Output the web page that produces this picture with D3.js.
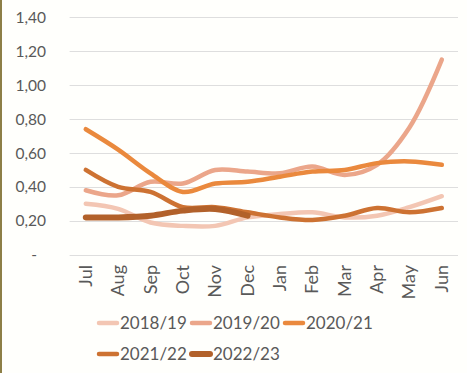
<!DOCTYPE html>
<html lang="en">
<head>
<meta charset="UTF-8">
<title>Monthly values by year</title>
<script src="https://cdnjs.cloudflare.com/ajax/libs/d3/7.8.5/d3.min.js"></script>
<style>
  body { margin: 0; background: #fffffc; }
  text { font-family: Lato, "Open Sans", sans-serif; fill: #595959; }
</style>
</head>
<body>
<div id="chart"></div>
<script>
var months = ["Jul","Aug","Sep","Oct","Nov","Dec","Jan","Feb","Mar","Apr","May","Jun"];
var yTicks = [0, 0.2, 0.4, 0.6, 0.8, 1.0, 1.2, 1.4];
var seriesNames = ["2018/19","2019/20","2020/21","2021/22","2022/23"];

var s1819 = [0.30,0.27,0.19,0.17,0.17,0.22,0.24,0.25,0.22,0.23,0.28,0.345];
var s1920 = [0.38,0.35,0.43,0.42,0.50,0.49,0.48,0.52,0.47,0.53,0.75,1.15];
var s2021 = [0.74,0.62,0.48,0.37,0.42,0.43,0.46,0.49,0.50,0.54,0.55,0.53];
var s2122 = [0.50,0.40,0.37,0.28,0.28,0.25,0.22,0.205,0.23,0.275,0.25,0.275];
var s2223 = [0.22,0.22,0.23,0.26,0.27,0.23];

var allSeries = [s1819, s1920, s2021, s2122, s2223];
var colors = ["#f3c6b3", "#eba68a", "#ea893d", "#cd7232", "#b2612a"];
var widths = [4.5, 4.5, 4.5, 4.5, 6];

var width = 467, height = 373;
var svg = d3.select("#chart").append("svg")
    .attr("width", width)
    .attr("height", height);

svg.append("rect").attr("width", width).attr("height", height).attr("fill", "#fffffc");
// left edge strip
svg.append("rect").attr("x", 0).attr("y", 0).attr("width", 2).attr("height", height).attr("fill", "#8d7f47");

var x = d3.scaleBand().domain(months).range([69.6, 458]);
var y = d3.scaleLinear().domain([0, 1.4]).range([254.7, 17.3]);

// gridlines
svg.append("g").selectAll("line")
    .data(yTicks)
    .enter().append("line")
    .attr("x1", 69.6).attr("x2", 458)
    .attr("y1", function(d) { return Math.round(y(d)) + 0.5; })
    .attr("y2", function(d) { return Math.round(y(d)) + 0.5; })
    .attr("stroke", "#dedede")
    .attr("stroke-width", 1);

// y labels
svg.append("g").selectAll("text")
    .data(yTicks)
    .enter().append("text")
    .attr("x", function(d) { return d === 0 ? 37 : 46; })
    .attr("y", function(d) { return y(d); })
    .attr("dy", "0.36em")
    .attr("text-anchor", "end")
    .style("font-size", "15.5px")
    .text(function(d) { return d === 0 ? "-" : d.toFixed(2).replace(".", ","); });

// x labels
svg.append("g").selectAll("text")
    .data(months)
    .enter().append("text")
    .attr("transform", function(d) {
        var cx = x(d) + x.bandwidth() / 2 + 6;
        return "translate(" + cx + ",265) rotate(-90)";
    })
    .attr("text-anchor", "end")
    .style("font-size", "18px")
    .text(function(d) { return d; });

var line = d3.line()
    .x(function(d, i) { return x(months[i]) + x.bandwidth() / 2; })
    .y(function(d) { return y(d); })
    .curve(d3.curveCatmullRom.alpha(0.5));

svg.append("g").selectAll("path")
    .data(allSeries)
    .enter().append("path")
    .attr("d", line)
    .attr("fill", "none")
    .attr("stroke", function(d, i) { return colors[i]; })
    .attr("stroke-width", function(d, i) { return widths[i]; })
    .attr("stroke-linecap", "round")
    .attr("stroke-linejoin", "round");

// legend
var legendPos = [[97, 323], [190, 323], [283, 323], [97, 354], [190, 354]];
var legend = svg.append("g").selectAll("g")
    .data(seriesNames)
    .enter().append("g")
    .attr("transform", function(d, i) { return "translate(" + legendPos[i][0] + "," + legendPos[i][1] + ")"; });

legend.append("line")
    .attr("x1", 2).attr("x2", 20)
    .attr("y1", 0).attr("y2", 0)
    .attr("stroke", function(d, i) { return colors[i]; })
    .attr("stroke-width", function(d, i) { return widths[i]; })
    .attr("stroke-linecap", "round");

legend.append("text")
    .attr("x", 23)
    .attr("y", 0)
    .attr("dy", "0.36em")
    .style("font-size", "17px")
    .text(function(d) { return d; });
</script>
</body>
</html>
